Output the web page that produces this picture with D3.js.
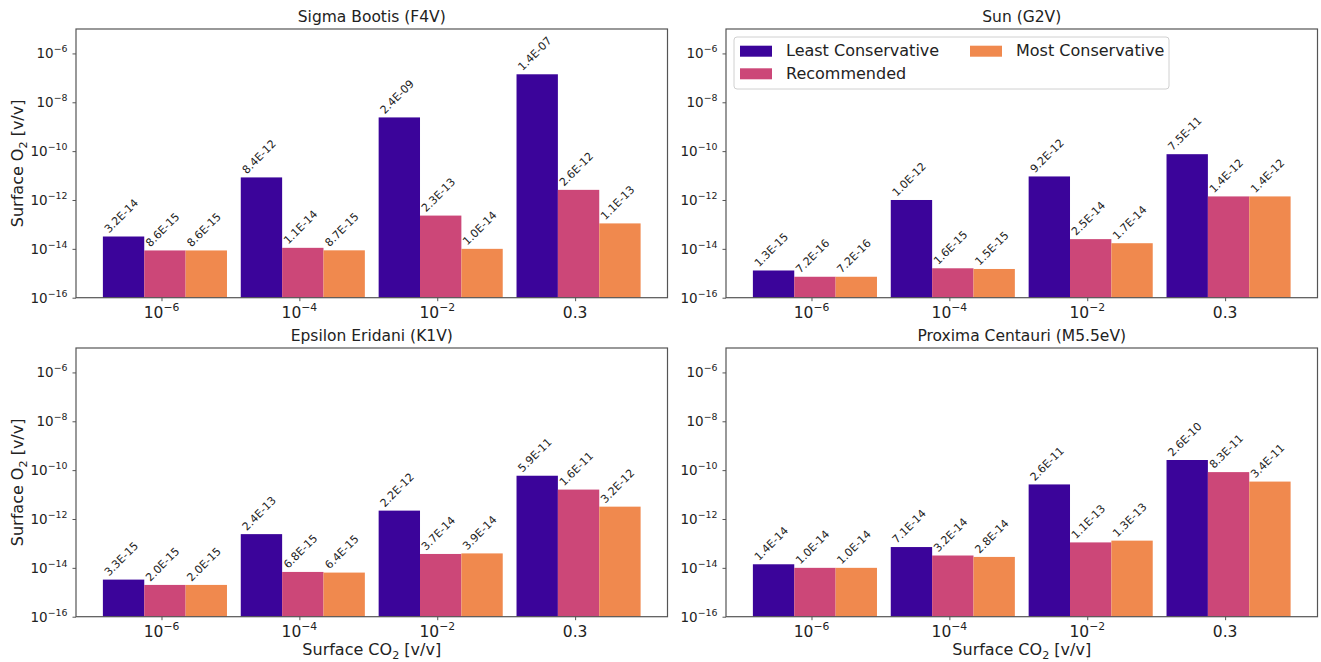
<!DOCTYPE html>
<html>
<head>
<meta charset="utf-8">
<script src="https://cdn.jsdelivr.net/npm/d3@7"></script>
<style>
  html, body { margin: 0; padding: 0; background: #fff; }
  svg { display: block; font-family: "DejaVu Sans", sans-serif; }
</style>
</head>
<body>
<svg id="chart" width="1321" height="662"></svg>
<script>
// ---------- DATA ----------
const categories = ["1e-6", "1e-4", "1e-2", "0.3"];
const tickBases = ["10", "10", "10", "0.3"];
const tickExps = ["\u22126", "\u22124", "\u22122", ""];
const seriesNames = ["Least Conservative", "Recommended", "Most Conservative"];
const seriesColors = ["#3b049a", "#cc4778", "#f0894e"];
const panelTitles = ["Sigma Bootis (F4V)", "Sun (G2V)", "Epsilon Eridani (K1V)", "Proxima Centauri (M5.5eV)"];
const yTickValues = [1e-16, 1e-14, 1e-12, 1e-10, 1e-8, 1e-6];
const yTickExps = ["\u221216", "\u221214", "\u221212", "\u221210", "\u22128", "\u22126"];

const sigmaLeast = [3.2e-14, 8.4e-12, 2.4e-9, 1.4e-7];
const sigmaRecommended = [8.6e-15, 1.1e-14, 2.3e-13, 2.6e-12];
const sigmaMost = [8.6e-15, 8.7e-15, 1.0e-14, 1.1e-13];

const sunLeast = [1.3e-15, 1.0e-12, 9.2e-12, 7.5e-11];
const sunRecommended = [7.2e-16, 1.6e-15, 2.5e-14, 1.4e-12];
const sunMost = [7.2e-16, 1.5e-15, 1.7e-14, 1.4e-12];

const epsLeast = [3.3e-15, 2.4e-13, 2.2e-12, 5.9e-11];
const epsRecommended = [2.0e-15, 6.8e-15, 3.7e-14, 1.6e-11];
const epsMost = [2.0e-15, 6.4e-15, 3.9e-14, 3.2e-12];

const proxLeast = [1.4e-14, 7.1e-14, 2.6e-11, 2.6e-10];
const proxRecommended = [1.0e-14, 3.2e-14, 1.1e-13, 8.3e-11];
const proxMost = [1.0e-14, 2.8e-14, 1.3e-13, 3.4e-11];

const panelSeries = [
  [sigmaLeast, sigmaRecommended, sigmaMost],
  [sunLeast, sunRecommended, sunMost],
  [epsLeast, epsRecommended, epsMost],
  [proxLeast, proxRecommended, proxMost]
];

// ---------- LAYOUT ----------
const svg = d3.select("#chart");
const W = 591.5, H = 268.7;
const panelPos = [
  { x: 76, y: 29 }, { x: 726, y: 29 },
  { x: 76, y: 348 }, { x: 726, y: 348 }
];
const barW = 0.3;
const textColor = "#222";

function fmtE(v) {
  const s = v.toExponential(1).toUpperCase(); // e.g. 1.4E-7
  const m = s.match(/^([\d.]+)E([+-])(\d+)$/);
  const exp = m[3].length < 2 ? "0" + m[3] : m[3];
  return m[1] + "E" + m[2] + exp;
}

panelTitles.forEach((title, p) => {
  const pos = panelPos[p];
  const g = svg.append("g").attr("transform", `translate(${pos.x},${pos.y})`);

  const x = d3.scaleLinear().domain([-0.645, 3.645]).range([0, W]);
  const y = d3.scaleLog().domain([1e-16, 1e-5]).range([H, 0]);

  // bars
  panelSeries[p].forEach((vals, k) => {
    g.append("g").selectAll("rect")
      .data(vals)
      .join("rect")
      .attr("x", (d, i) => x(i + (k - 1) * barW - barW / 2))
      .attr("width", x(barW) - x(0))
      .attr("y", d => y(d))
      .attr("height", d => H - y(d))
      .attr("fill", seriesColors[k]);

    g.append("g").selectAll("text")
      .data(vals)
      .join("text")
      .attr("transform", (d, i) => {
        const lx = x(i + (k - 1) * barW - barW / 2) + 6;
        const ly = y(d) - 3;
        return `translate(${lx},${ly}) rotate(-45)`;
      })
      .attr("font-size", 11)
      .attr("fill", textColor)
      .text(d => fmtE(d));
  });

  // frame
  g.append("rect")
    .attr("x", 0).attr("y", 0).attr("width", W).attr("height", H)
    .attr("fill", "none").attr("stroke", "#555").attr("stroke-width", 1.2);

  // y axis ticks
  const yAxis = d3.axisLeft(y).tickValues(yTickValues).tickSize(3.5).tickSizeOuter(0).tickFormat(() => "");
  const ya = g.append("g").call(yAxis);
  ya.select(".domain").remove();
  ya.selectAll(".tick line").attr("stroke", "#555");
  ya.selectAll(".tick text").remove();
  const ylab = g.append("g").selectAll("text")
    .data(yTickValues)
    .join("text")
    .attr("x", -8.5)
    .attr("y", d => y(d) + 5)
    .attr("text-anchor", "end")
    .attr("font-size", 13.5)
    .attr("fill", textColor);
  ylab.append("tspan").text("10");
  ylab.append("tspan").attr("dy", -6).attr("font-size", 9.4).text((d, i) => yTickExps[i]);

  // x axis ticks
  const tickPos = categories.map((c, i) => i - 0.025);
  const xAxis = d3.axisBottom(x).tickValues(tickPos).tickSize(3.5).tickSizeOuter(0).tickFormat(() => "");
  const xa = g.append("g").attr("transform", `translate(0,${H})`).call(xAxis);
  xa.select(".domain").remove();
  xa.selectAll(".tick line").attr("stroke", "#555");
  xa.selectAll(".tick text").remove();
  const xlab = g.append("g").selectAll("text")
    .data(tickPos)
    .join("text")
    .attr("x", d => x(d))
    .attr("y", H + 20.6)
    .attr("text-anchor", "middle")
    .attr("font-size", 15.5)
    .attr("fill", textColor);
  xlab.append("tspan").text((d, i) => tickBases[i]);
  xlab.filter((d, i) => tickExps[i] !== "")
    .append("tspan").attr("dy", -7.5).attr("font-size", 10.8).text((d, i) => tickExps[i]);

  // title
  g.append("text")
    .attr("x", W / 2).attr("y", -7.5)
    .attr("text-anchor", "middle")
    .attr("font-size", 15.5)
    .attr("fill", textColor)
    .text(title);

  // y label (left column)
  if (p % 2 === 0) {
    const t = g.append("text")
      .attr("transform", `translate(${23 - pos.x},${H / 2}) rotate(-90)`)
      .attr("text-anchor", "middle")
      .attr("font-size", 16)
      .attr("fill", textColor);
    t.append("tspan").text("Surface O");
    t.append("tspan").attr("dy", 3.5).attr("font-size", 11.2).text("2");
    t.append("tspan").attr("dy", -3.5).text(" [v/v]");
  }
  // x label (bottom row)
  if (p >= 2) {
    const t = g.append("text")
      .attr("x", W / 2).attr("y", H + 38.5)
      .attr("text-anchor", "middle")
      .attr("font-size", 16)
      .attr("fill", textColor);
    t.append("tspan").text("Surface CO");
    t.append("tspan").attr("dy", 3.5).attr("font-size", 11.2).text("2");
    t.append("tspan").attr("dy", -3.5).text(" [v/v]");
  }

  // legend (top-right panel)
  if (p === 1) {
    const lg = g.append("g").attr("transform", "translate(8,8)");
    lg.append("rect")
      .attr("x", 0).attr("y", 0).attr("width", 435).attr("height", 52)
      .attr("rx", 3).attr("fill", "#fff").attr("fill-opacity", 0.8)
      .attr("stroke", "#d0d0d0");
    const legPos = [{ x: 6, y: 13.7 }, { x: 6, y: 36.3 }, { x: 236, y: 13.7 }];
    seriesNames.forEach((name, k) => {
      const e = lg.append("g").attr("transform", `translate(${legPos[k].x},${legPos[k].y})`);
      e.append("rect").attr("x", 0).attr("y", -5).attr("width", 32).attr("height", 11)
        .attr("fill", seriesColors[k]);
      e.append("text").attr("x", 46).attr("y", 5.5)
        .attr("font-size", 16).attr("fill", textColor).text(name);
    });
  }
});
</script>
</body>
</html>
